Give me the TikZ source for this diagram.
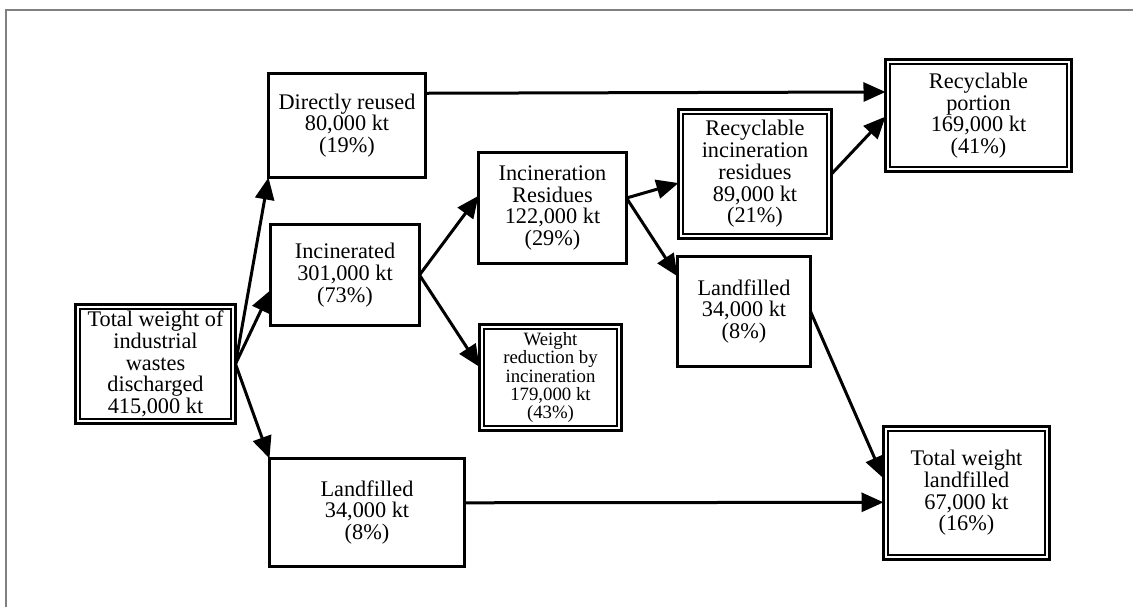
\documentclass[tikz,border=0pt]{standalone}
\usepackage{fontspec}
\setmainfont{Liberation Serif}
\usetikzlibrary{arrows.meta,calc}
\begin{document}
\begin{tikzpicture}[x=1pt,y=-1pt,
  box/.style={draw, line width=3.2pt, align=center, inner sep=0pt, outer sep=0pt,
    font=\fontsize{22.3}{21.7}\selectfont},
  dbox/.style={box, line width=2.8pt},
  smalltext/.style={font=\fontsize{18.8}{18.3}\selectfont},
  flow/.style={line width=3pt, -{Triangle[length=22pt,width=19pt]}},
  innerline/.style={line width=1.5pt}]
\useasboundingbox (0,0) rectangle (1133,607);
% sheet frame
\draw[gray, line width=1.2pt] (6,607) -- (6,10) -- (1133,10);

% plain boxes
\node[box, minimum width=157, minimum height=104] (reuse) at (347,125.5)
  {Directly reused\\80,000 kt\\(19\%)};
\node[box, minimum width=149, minimum height=101] (incin) at (345,275)
  {Incinerated\\301,000 kt\\(73\%)};
\node[box, minimum width=195, minimum height=108] (landA) at (367,512.5)
  {Landfilled\\34,000 kt\\(8\%)};
\node[box, minimum width=148, minimum height=111] (resid) at (552.5,208)
  {Incineration\\Residues\\122,000 kt\\(29\%)};
\node[box, minimum width=133, minimum height=110] (landM) at (744,311.5)
  {Landfilled\\34,000 kt\\(8\%)};

% double-ruled boxes
\node[dbox, minimum width=160, minimum height=119] (total) at (155.5,364)
  {Total weight of\\industrial\\wastes\\discharged\\415,000 kt};
\node[dbox, smalltext, minimum width=142, minimum height=106] (wred) at (550.5,377.5)
  {Weight\\reduction by\\incineration\\179,000 kt\\(43\%)};
\node[dbox, minimum width=153, minimum height=129] (rres) at (755,174)
  {Recyclable\\incineration\\residues\\89,000 kt\\(21\%)};
\node[dbox, minimum width=186, minimum height=112] (rp) at (978.5,115.5)
  {Recyclable\\portion\\169,000 kt\\(41\%)};
\node[dbox, minimum width=166, minimum height=133] (twl) at (966.5,493)
  {Total weight\\landfilled\\67,000 kt\\(16\%)};
\foreach \n in {total,wred,rres,rp,twl}
  \draw[innerline] ([shift={(4.4,4.4)}]\n.north west) rectangle ([shift={(-4.4,-4.4)}]\n.south east);

% flows
\draw[flow] (total.east) -- (reuse.south west);
\draw[flow] (total.east) -- ($(incin.north west)!0.65!(incin.south west)$);
\draw[flow] (total.east) -- (landA.north west);
\draw[flow] ($(reuse.north east)!0.19!(reuse.south east)$) -- ($(rp.north west)!0.29!(rp.south west)$);
\draw[flow] (incin.east) -- ($(resid.north west)!0.39!(resid.south west)$);
\draw[flow] (incin.east) -- ($(wred.north west)!0.40!(wred.south west)$);
\draw[flow] ($(resid.north east)!0.41!(resid.south east)$) -- ($(rres.north west)!0.57!(rres.south west)$);
\draw[flow] ($(resid.north east)!0.41!(resid.south east)$) -- ($(landM.north west)!0.18!(landM.south west)$);
\draw[flow] (rres.east) -- ($(rp.north west)!0.51!(rp.south west)$);
\draw[flow] (landM.east) -- ($(twl.north west)!0.39!(twl.south west)$);
\draw[flow] ($(landA.north east)!0.41!(landA.south east)$) -- ($(twl.north west)!0.57!(twl.south west)$);
\end{tikzpicture}
\end{document}
